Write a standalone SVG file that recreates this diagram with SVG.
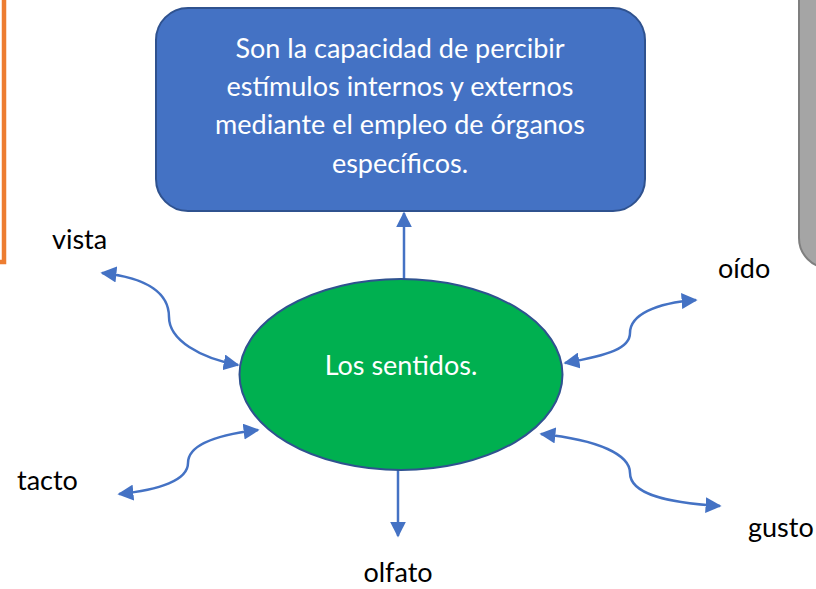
<svg xmlns="http://www.w3.org/2000/svg" width="816" height="589" viewBox="0 0 816 589">
<style>
.lbl{font-family:Lato,"Open Sans","Liberation Sans",sans-serif;font-size:27px;fill:#000}
.wt{font-family:Lato,"Open Sans","Liberation Sans",sans-serif;font-size:27px;fill:#fff;text-anchor:middle}
.con{fill:none;stroke:#4472C4;stroke-width:2.5}
</style>
<defs>
<marker id="ah" viewBox="0 0 10 10" refX="9" refY="5" markerWidth="6.4" markerHeight="6.4" orient="auto-start-reverse" markerUnits="strokeWidth">
<path d="M0,0 L10,5 L0,10 Z" fill="#4472C4"/>
</marker>
</defs>
<rect width="816" height="589" fill="#fff"/>
<g id="side-left">
<rect x="-20" y="-10" width="24" height="272" fill="#fff" stroke="#ED7D31" stroke-width="4.5"/>
</g>
<g id="side-right">
<rect x="799" y="-40" width="80" height="308" rx="30" fill="#A5A5A5" stroke="#7F7F7F" stroke-width="2"/>
</g>
<g id="connectors">
<path class="con" d="M404,279 L404,213" marker-end="url(#ah)"/>
<path class="con" d="M398,470 L398,536" marker-end="url(#ah)"/>
<path class="con" d="M102,273 C150,278 169,295 169,317 C169,340 200,358 238,365" marker-start="url(#ah)" marker-end="url(#ah)"/>
<path class="con" d="M119,494 C160,490 188,480 188,463 C188,445 215,435 258,430" marker-start="url(#ah)" marker-end="url(#ah)"/>
<path class="con" d="M565,363 C610,355 630,348 630,333 C630,315 655,303 696,300" marker-start="url(#ah)" marker-end="url(#ah)"/>
<path class="con" d="M541,434 C600,440 630,455 630,473 C630,495 670,503 720,506" marker-start="url(#ah)" marker-end="url(#ah)"/>
</g>
<g id="definition">
<rect x="156" y="8" width="489" height="203" rx="32" fill="#4472C4" stroke="#2F528F" stroke-width="2"/>
<text class="wt" x="400" y="58">Son la capacidad de percibir</text>
<text class="wt" x="400" y="96">estímulos internos y externos</text>
<text class="wt" x="400" y="134">mediante el empleo de órganos</text>
<text class="wt" x="400" y="173">específicos.</text>
</g>
<g id="sentidos">
<ellipse cx="401" cy="374.5" rx="161.5" ry="95.5" fill="#00B050" stroke="#2F528F" stroke-width="2"/>
<text class="wt" x="401" y="375">Los sentidos.</text>
</g>
<g id="vista"><text class="lbl" x="52" y="249">vista</text></g>
<g id="oido"><text class="lbl" x="718" y="278">oído</text></g>
<g id="tacto"><text class="lbl" x="17" y="490">tacto</text></g>
<g id="gusto"><text class="lbl" x="748" y="537">gusto</text></g>
<g id="olfato"><text class="lbl" x="398" y="582" text-anchor="middle">olfato</text></g>
</svg>
